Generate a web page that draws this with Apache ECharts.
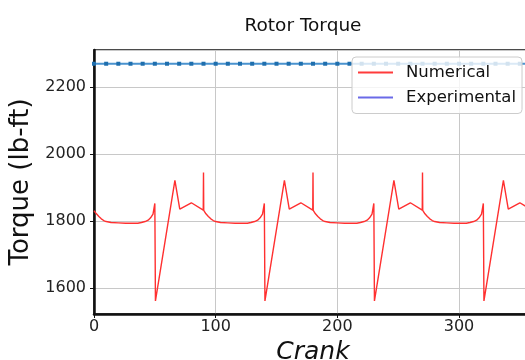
<!DOCTYPE html>
<html>
<head>
<meta charset="utf-8">
<script src="https://cdn.jsdelivr.net/npm/echarts@6/dist/echarts.min.js"></script>
<style>
html,body{margin:0;padding:0;background:#fff;}
#chart{width:525px;height:360px;}
</style>
</head>
<body>
<div id="chart"></div>
<script>
var titleText = 'Rotor Torque';
var xName = 'Crank';
var yName = 'Torque (lb-ft)';
var seriesNames = ['Numerical', 'Experimental'];
var xTicks = [0, 100, 200, 300];

var crankNum = [0,2,4,6,8,10,14,20,26,32,36,39,42,44.5,46.5,48.5,50,50.5,66.5,70.5,80,89.8,90,90.2,
  92,94,96,98,100,104,110,116,122,126,129,132,134.5,136.5,138.5,140,140.5,156.5,160.5,170,179.8,180,180.2,
  182,184,186,188,190,194,200,206,212,216,219,222,224.5,226.5,228.5,230,230.5,246.5,250.5,260,269.8,270,270.2,
  272,274,276,278,280,284,290,296,302,306,309,312,314.5,316.5,318.5,320,320.5,336.5,340.5,350,360];
var torqueNum = [1831,1822,1814,1807,1802,1799,1796,1795,1794,1794,1794,1796,1799,1803,1810,1821,1853,1562,1922,1836,1855,1833,1945,1832,
  1822,1814,1807,1802,1799,1796,1795,1794,1794,1794,1796,1799,1803,1810,1821,1853,1562,1922,1836,1855,1833,1945,1832,
  1822,1814,1807,1802,1799,1796,1795,1794,1794,1794,1796,1799,1803,1810,1821,1853,1562,1922,1836,1855,1833,1945,1832,
  1822,1814,1807,1802,1799,1796,1795,1794,1794,1794,1796,1799,1803,1810,1821,1853,1562,1922,1836,1855,1833];

var crankExp = [0,10,20,30,40,50,60,70,80,90,100,110,120,130,140,150,160,170,180,190,200,210,220,230,240,250,260,270,280,290,300,310,320,330,340,350,360];
var torqueExp = [2270,2270,2270,2270,2270,2270,2270,2270,2270,2270,2270,2270,2270,2270,2270,2270,2270,2270,2270,2270,2270,2270,2270,2270,2270,2270,2270,2270,2270,2270,2270,2270,2270,2270,2270,2270,2270];

function pairs(xs, ys){ var out=[]; for(var i=0;i<xs.length;i++) out.push([xs[i], ys[i]]); return out; }

var FONT = 'DejaVu Sans';
var chart = echarts.init(document.getElementById('chart'), null, {renderer:'canvas'});
chart.setOption({
  animation:false,
  backgroundColor:'#ffffff',
  title:{
    text:titleText, left:298, top:12, textAlign:'center',
    textStyle:{fontFamily:FONT, fontSize:18.5, fontWeight:'normal', color:'#111'}
  },
  legend:{
    orient:'vertical', left:352, top:57,
    padding:[6.5,6,7,6], itemGap:7,
    backgroundColor:'rgba(255,255,255,0.8)', borderColor:'#cccccc', borderWidth:1, borderRadius:4,
    itemWidth:35, itemHeight:2, icon:'rect',
    textStyle:{fontFamily:FONT, fontSize:16.5, color:'#111', lineHeight:18, padding:[0,0,0,8]},
    data:[
      {name:seriesNames[0], itemStyle:{color:'#ff3b3b'}},
      {name:seriesNames[1], itemStyle:{color:'#6a6ae8'}}
    ]
  },
  grid:{left:94, top:50, bottom:46, right:-7, containLabel:false, outerBoundsMode:'none',
        show:true, borderColor:'#111', borderWidth:1.5},
  xAxis:{
    type:'value', min:0, max:360, interval:100,
    name:xName, nameLocation:'middle', nameGap:14,
    nameTextStyle:{fontFamily:FONT, fontSize:25, fontStyle:'italic', color:'#111'},
    axisLine:{show:true, onZero:false, lineStyle:{color:'#111', width:2.5}},
    axisTick:{show:true, length:4, lineStyle:{color:'#111'}},
    axisLabel:{fontFamily:FONT, fontSize:16, color:'#222', margin:5, showMaxLabel:false,
               formatter:function(v){return String(v);}},
    splitLine:{show:true, lineStyle:{color:'#c8c8c8', width:1}}
  },
  yAxis:{
    type:'value', min:1523, max:2311,
    name:yName, nameLocation:'middle', nameGap:56,
    nameTextStyle:{fontFamily:FONT, fontSize:26, color:'#111'},
    axisLine:{show:true, onZero:false, lineStyle:{color:'#111', width:2.5}},
    axisTick:{show:true, length:4, lineStyle:{color:'#111'}},
    axisLabel:{fontFamily:FONT, fontSize:16, color:'#222', margin:8, showMinLabel:false, showMaxLabel:false,
               formatter:function(v){return String(v);}},
    splitLine:{show:true, lineStyle:{color:'#c8c8c8', width:1}}
  },
  series:[
    {
      name:seriesNames[0], type:'line', data:pairs(crankNum, torqueNum),
      showSymbol:false, symbol:'none',
      lineStyle:{color:'#ff3030', width:1.4}, itemStyle:{color:'#ff3b3b'}, z:3
    },
    {
      name:seriesNames[1], type:'line', data:pairs(crankExp, torqueExp),
      symbol:'rect', symbolSize:4, showSymbol:true,
      lineStyle:{color:'#4a93cf', width:2}, itemStyle:{color:'#1f6fae'}, z:2
    }
  ]
});
</script>
</body>
</html>
